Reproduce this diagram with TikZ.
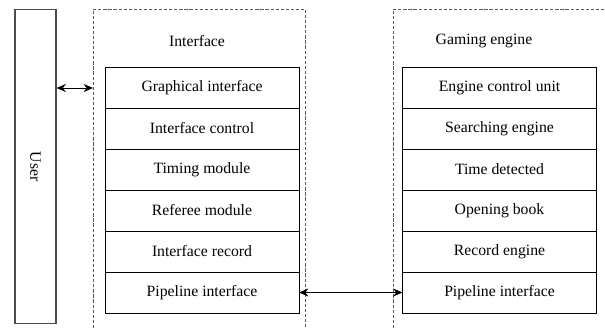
\documentclass[tikz,border=0pt]{standalone}
\usepackage{fontspec}
\setmainfont{Liberation Serif}
\usetikzlibrary{positioning}
\usetikzlibrary{arrows.meta}

\begin{document}
\begin{tikzpicture}[x=0.75pt,y=0.75pt,
  unit/.style={draw,line width=0.7pt,minimum width=145.5pt,minimum height=30.75pt,
    outer sep=0pt,inner sep=0pt,font=\fontsize{11.8}{13}\selectfont},
  frame/.style={draw=black!65,line width=0.7pt,dash pattern=on 2.4pt off 1.4pt},
  link/.style={line width=0.7pt,{Stealth[length=7pt,width=6pt]}-{Stealth[length=7pt,width=6pt]}}]
\useasboundingbox (0,0) rectangle (605,328);

% user on the far left
\node[draw=black!70,line width=0.8pt,minimum width=30.75pt,minimum height=236pt,
  font=\fontsize{11.8}{13}\selectfont] (user) at (35.5,161.5) {\rotatebox{-90}{User}};

% the two dashed groups, open at the bottom
\draw[frame] (93,0) -- (93,319) -- (305,319) -- (305,0);
\draw[frame] (393,0) -- (393,319) -- (605,319);
\node[font=\fontsize{11.8}{13}\selectfont] (ifhead) at (197,287) {Interface};
\node[font=\fontsize{11.8}{13}\selectfont] (enghead) at (484,287) {Gaming engine};

% interface side
\node[unit] (gui) at (202,240.5) {Graphical interface};
\node[unit,below=0pt of gui] (ictrl) {Interface control};
\node[unit,below=0pt of ictrl] (timing) {Timing module};
\node[unit,below=0pt of timing] (referee) {Referee module};
\node[unit,below=0pt of referee] (irec) {Interface record};
\node[unit,below=0pt of irec] (ipipe) {Pipeline interface};

% engine side
\node[unit] (ecu) at (499.5,240.5) {Engine control unit};
\node[unit,below=0pt of ecu] (search) {Searching engine};
\node[unit,below=0pt of search] (timedet) {Time detected};
\node[unit,below=0pt of timedet] (book) {Opening book};
\node[unit,below=0pt of book] (erec) {Record engine};
\node[unit,below=0pt of erec] (epipe) {Pipeline interface};

% connections
\coordinate (ifedge) at (93,240);
\draw[link] (user.east |- ifedge) -- (ifedge);
\draw[link] (ipipe.east) -- (epipe.west);
\end{tikzpicture}
\end{document}
